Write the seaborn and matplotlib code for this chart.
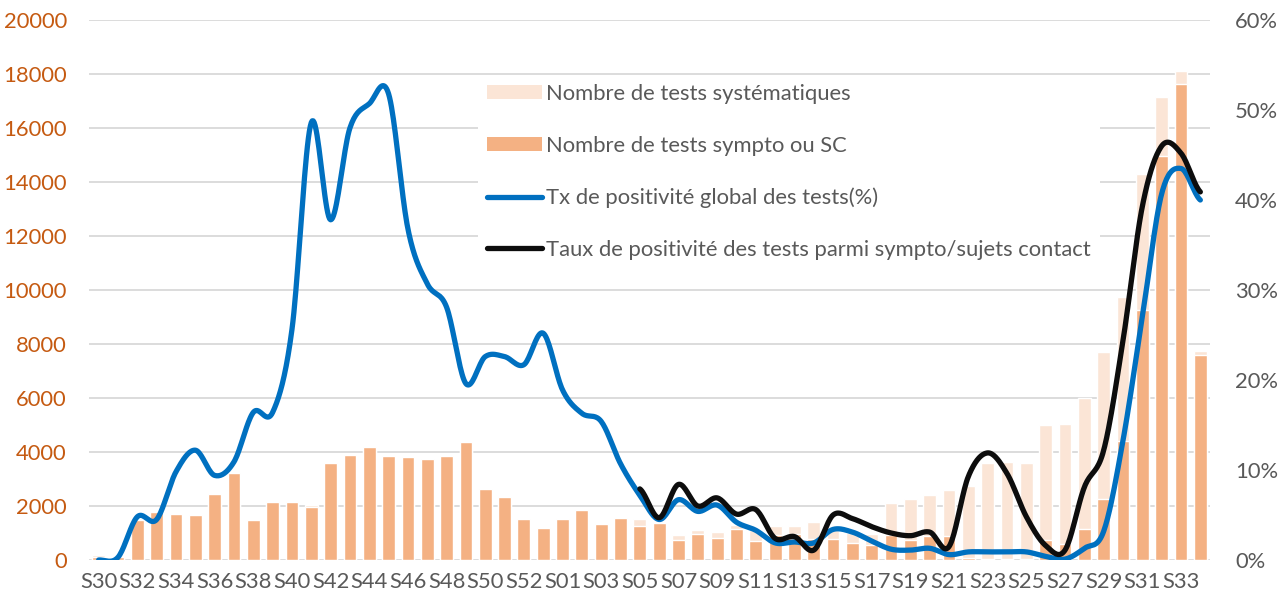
import numpy as np
import pandas as pd
import matplotlib
matplotlib.use("Agg")
import matplotlib.pyplot as plt
from matplotlib.patches import Patch
from matplotlib.lines import Line2D
import seaborn as sns

# ------------------------------------------------------------------
# Data
# ------------------------------------------------------------------
weeks = ["S%02d" % w for w in range(30, 54)] + ["S%02d" % w for w in range(1, 35)]

nb_sympto = [
    120, 120, 1500, 1780, 1690, 1650, 2440, 3230, 1480, 2150,
    2130, 1950, 3590, 3890, 4190, 3860, 3820, 3750, 3840, 4380,
    2630, 2340, 1510, 1200, 1530, 1850, 1330, 1570, 1270, 1380,
    730, 975, 830, 1150, 700, 930, 960, 770, 780, 630,
    560, 910, 740, 880, 900, 60, 40, 40, 40, 740,
    580, 1150, 2260, 4410, 9270, 14960, 17620, 7600,
]
nb_systematique = [
    50, 0, 0, 0, 0, 0, 0, 0, 0, 0,
    30, 80, 0, 0, 0, 0, 0, 0, 0, 0,
    0, 0, 0, 0, 0, 0, 0, 0, 250, 0,
    200, 135, 220, 150, 400, 340, 300, 630, 320, 360,
    420, 1190, 1510, 1510, 1700, 2690, 3560, 3580, 3560, 4260,
    4450, 4840, 5450, 5340, 5030, 2190, 500, 130,
]
tx_global = [
    0.0, 0.3, 4.8, 4.5, 9.8, 12.2, 9.4, 10.9, 16.4, 16.4,
    25.6, 48.6, 37.8, 48.0, 50.7, 51.8, 36.8, 30.7, 28.1, 19.6,
    22.6, 22.6, 21.7, 25.2, 18.9, 16.3, 15.4, 10.7, 7.2, 4.5,
    6.7, 5.4, 6.1, 4.2, 3.3, 1.9, 2.0, 1.9, 3.4, 3.1,
    2.1, 1.2, 1.1, 1.3, 0.6, 0.9, 0.9, 0.9, 0.9, 0.4,
    0.1, 1.3, 3.2, 13.3, 27.0, 40.7, 43.5, 40.0,
]
tx_sympto = [np.nan] * 28 + [
    7.9, 4.7, 8.4, 6.0, 6.9, 5.1, 5.6, 2.4, 2.6, 1.1,
    5.0, 4.6, 3.7, 3.0, 2.7, 3.1, 1.5, 9.3, 11.9, 9.6,
    4.8, 1.6, 1.1, 8.1, 12.2, 24.4, 39.3, 46.0, 45.2, 40.9,
]

LIGHT = "#FBE5D6"
DARK = "#F4B183"
BLUE = "#0070C0"
BLACK = "#0D0D0D"
GRID = "#D9D9D9"
TXT = "#595959"
ORANGE = "#C55A11"
FS = 15.8


def smooth(values, n=20):
    # Excel-like smoothed line (uniform Catmull-Rom through the points)
    y = np.asarray(values, float)
    idx = np.where(~np.isnan(y))[0]
    x0, y = idx.astype(float), y[idx]
    p = np.concatenate([[y[0]], y, [y[-1]]])
    xs, ys = [], []
    t = np.linspace(0, 1, n, endpoint=False)
    for i in range(len(y) - 1):
        p0, p1, p2, p3 = p[i], p[i + 1], p[i + 2], p[i + 3]
        seg = 0.5 * ((2 * p1) + (-p0 + p2) * t
                     + (2 * p0 - 5 * p1 + 4 * p2 - p3) * t ** 2
                     + (-p0 + 3 * p1 - 3 * p2 + p3) * t ** 3)
        xs.append(x0[i] + t)
        ys.append(seg)
    xs.append([x0[-1]])
    ys.append([y[-1]])
    return np.concatenate(xs), np.concatenate(ys)


# week numbers repeat across 2020/2021, so bars are keyed by position
df = pd.DataFrame({
    "pos": np.arange(len(weeks)),
    "sympto": nb_sympto,
    "total": np.array(nb_sympto) + np.array(nb_systematique),
})

sns.set_style("white")
plt.rcParams["font.family"] = ["Lato", "DejaVu Sans"]

fig = plt.figure(figsize=(12.85, 6.03), dpi=100)
ax = fig.add_axes([89 / 1285, 43 / 603, 1121 / 1285, 540 / 603])

sns.barplot(data=df, x="pos", y="total", color=LIGHT, saturation=1,
            width=0.66, ax=ax, zorder=2)
sns.barplot(data=df, x="pos", y="sympto", color=DARK, saturation=1,
            width=0.66, ax=ax, zorder=3)

ax.set_ylim(0, 20000)
ax.set_xlim(-0.5, len(weeks) - 0.5)
ax.set_yticks(range(0, 20001, 2000))
ax.set_xticks(range(0, len(weeks), 2))
ax.set_xticklabels(weeks[::2])
ax.yaxis.grid(True, color=GRID, lw=1.3, zorder=0)
ax.set_axisbelow(True)
for s in ax.spines.values():
    s.set_visible(False)
ax.set_xlabel("")
ax.set_ylabel("")
ax.tick_params(axis="y", length=0, pad=16, labelsize=FS, labelcolor=ORANGE)
ax.tick_params(axis="x", length=0, pad=9, labelsize=FS, labelcolor=TXT)

ax2 = ax.twinx()
xb, yb = smooth(tx_global)
sns.lineplot(x=xb, y=yb, ax=ax2, color=BLUE, lw=3.8, sort=False,
             estimator=None, solid_capstyle="round")
xk, yk = smooth(tx_sympto)
sns.lineplot(x=xk, y=yk, ax=ax2, color=BLACK, lw=3.8, sort=False,
             estimator=None, solid_capstyle="round")
ax2.set_ylim(0, 60)
ax2.set_yticks(range(0, 61, 10))
ax2.set_yticklabels(["%d%%" % v for v in range(0, 61, 10)])
ax2.tick_params(axis="y", length=0, pad=18, labelsize=FS, labelcolor=TXT)
ax2.grid(False)
for s in ax2.spines.values():
    s.set_visible(False)

handles = [
    Patch(facecolor=LIGHT, edgecolor="none"),
    Patch(facecolor=DARK, edgecolor="none"),
    Line2D([0], [0], color=BLUE, lw=3.8, solid_capstyle="round"),
    Line2D([0], [0], color=BLACK, lw=3.8, solid_capstyle="round"),
]
labels = [
    "Nombre de tests systématiques",
    "Nombre de tests sympto ou SC",
    "Tx de positivité global des tests(%)",
    "Taux de positivité des tests parmi sympto/sujets contact",
]
leg = ax2.legend(handles, labels, loc="upper left",
                 bbox_to_anchor=((467 - 89) / 1121, (560 - 64) / 540),
                 frameon=True, facecolor="white", edgecolor="none",
                 framealpha=1, fontsize=FS, labelspacing=1.45,
                 handlelength=2.5, handleheight=0.6, handletextpad=0.2,
                 borderpad=0.4, labelcolor=TXT)
leg.get_frame().set_boxstyle("square", pad=0)

fig.savefig("out.png", dpi=100)
